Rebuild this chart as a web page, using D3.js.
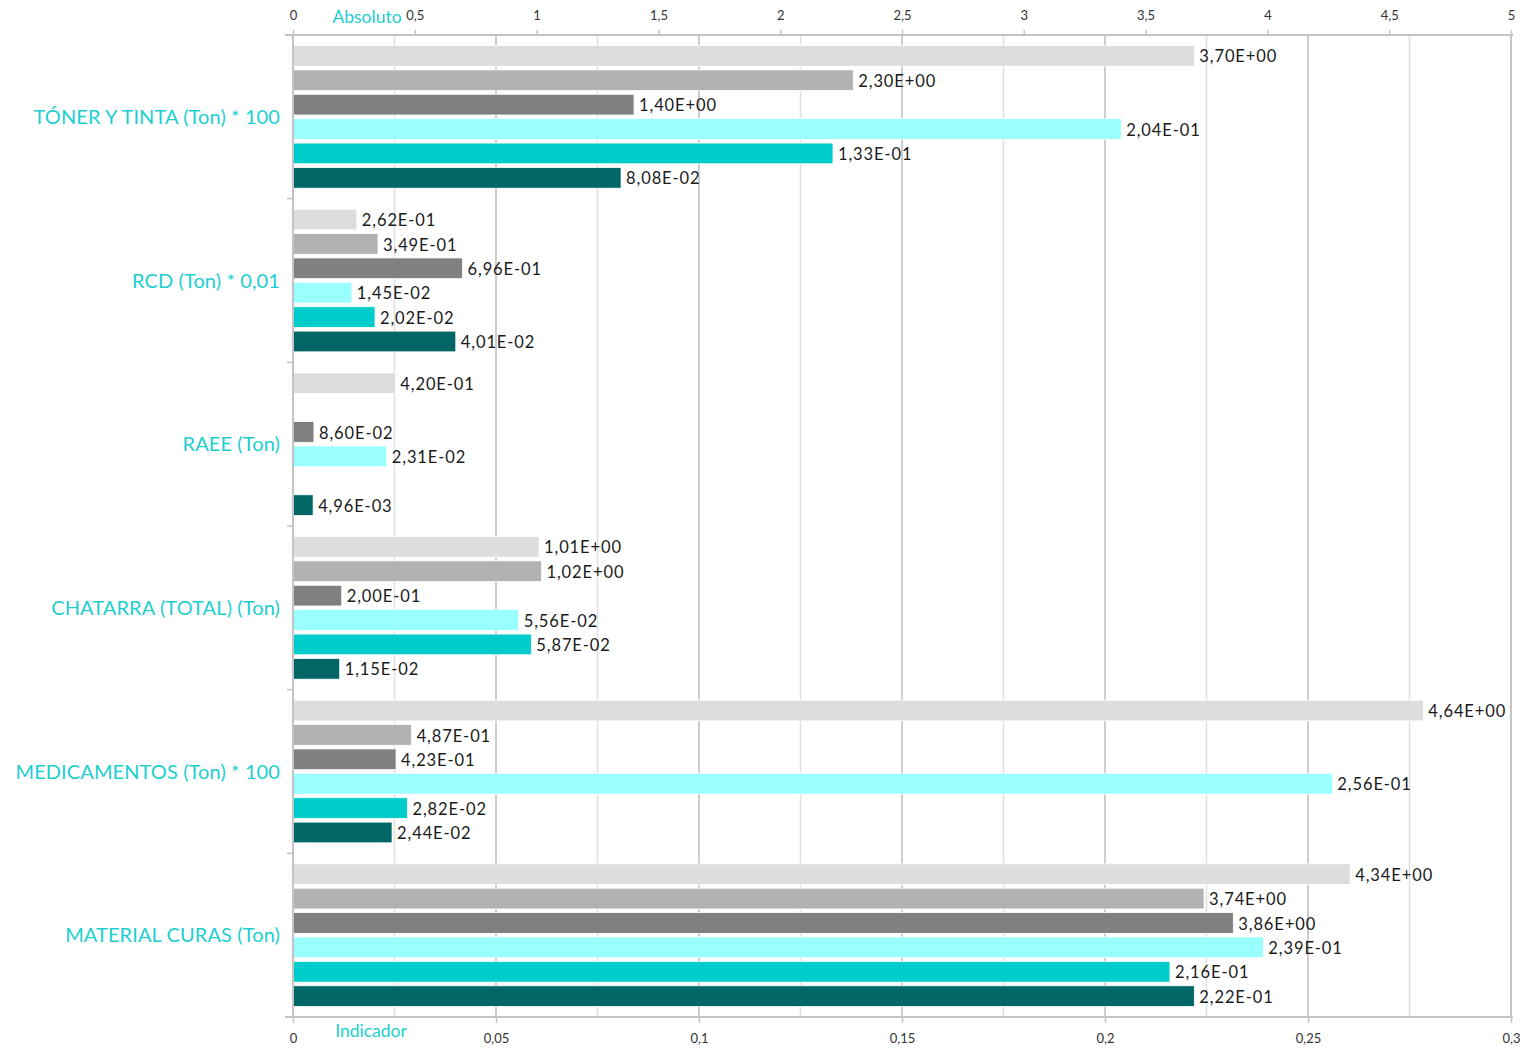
<!DOCTYPE html>
<html>
<head>
<meta charset="utf-8">
<script src="https://cdn.jsdelivr.net/npm/d3@7"></script>
<style>
  html, body { margin: 0; padding: 0; background: #fff; }
  svg { display: block; font-family: "Lato", "Open Sans", sans-serif; }
</style>
</head>
<body>
<svg id="chart" width="1524" height="1048"></svg>
<script>
// Waste categories (rows)
const categories = [
  "TÓNER Y TINTA (Ton) * 100",
  "RCD (Ton) * 0,01",
  "RAEE (Ton)",
  "CHATARRA (TOTAL) (Ton)",
  "MEDICAMENTOS (Ton) * 100",
  "MATERIAL CURAS (Ton)"
];

// Absolute quantities (read on the top axis)
const absoluto1 = [3.70, 0.262, 0.420, 1.01, 4.64, 4.34];
const absoluto2 = [2.30, 0.349, null, 1.02, 0.487, 3.74];
const absoluto3 = [1.40, 0.696, 0.086, 0.200, 0.423, 3.86];

// Indicator values (read on the bottom axis)
const indicador1 = [0.204, 0.0145, 0.0231, 0.0556, 0.256, 0.239];
const indicador2 = [0.133, 0.0202, null, 0.0587, 0.0282, 0.216];
const indicador3 = [0.0808, 0.0401, 0.00496, 0.0115, 0.0244, 0.222];

// Axis tick values
const absTicks = [0, 0.5, 1, 1.5, 2, 2.5, 3, 3.5, 4, 4.5, 5];
const indTicks = [0, 0.05, 0.1, 0.15, 0.2, 0.25, 0.3];
const indGrid = [0.025, 0.05, 0.075, 0.1, 0.125, 0.15, 0.175, 0.2, 0.225, 0.25, 0.275];

const seriesList = [
  { name: "Absoluto 1", values: absoluto1, axis: "abs", color: "#dddddd" },
  { name: "Absoluto 2", values: absoluto2, axis: "abs", color: "#b2b2b2" },
  { name: "Absoluto 3", values: absoluto3, axis: "abs", color: "#808080" },
  { name: "Indicador 1", values: indicador1, axis: "ind", color: "#99ffff" },
  { name: "Indicador 2", values: indicador2, axis: "ind", color: "#00cccc" },
  { name: "Indicador 3", values: indicador3, axis: "ind", color: "#006666" }
];

const cyan = "#1dcfcf";
const plot = { left: 293, right: 1511, top: 35, bottom: 1017 };

const svg = d3.select("#chart");

const xAbs = d3.scaleLinear().domain([0, 5]).range([plot.left, plot.right]);
const xInd = d3.scaleLinear().domain([0, 0.3]).range([plot.left, plot.right]);
const y = d3.scaleBand().domain(categories).range([plot.top, plot.bottom]).padding(0);
const yInner = d3.scaleBand()
  .domain(d3.range(seriesList.length))
  .range([0, y.bandwidth()])
  .paddingInner(0.15)
  .paddingOuter(0.43);

const comma = s => s.replace(".", ",");
function sci(v) {
  const [m, e] = v.toExponential(2).split("e");
  const n = +e;
  const sign = n < 0 ? "-" : "+";
  return comma(m) + "E" + sign + String(Math.abs(n)).padStart(2, "0");
}

// Grid lines (on the indicator scale)
svg.append("g")
  .selectAll("line")
  .data(indGrid)
  .join("line")
  .attr("x1", d => xInd(d)).attr("x2", d => xInd(d))
  .attr("y1", plot.top).attr("y2", plot.bottom)
  .attr("stroke", (d, i) => i % 2 === 1 ? "#bdbdbd" : "#e0e0e0")
  .attr("stroke-width", 1.5);

// Right border line
svg.append("line")
  .attr("x1", plot.right).attr("x2", plot.right).attr("y1", plot.top).attr("y2", plot.bottom)
  .attr("stroke", "#c4c4c4").attr("stroke-width", 2);

// Bars
const rows = svg.append("g").selectAll("g")
  .data(categories)
  .join("g")
  .attr("transform", d => `translate(0,${y(d)})`);

const barData = ci => seriesList.map((s, si) => ({
  si, value: s.values[ci], color: s.color,
  x: s.axis === "abs" ? xAbs : xInd
})).filter(d => d.value != null);

rows.each(function (cat, ci) {
  const g = d3.select(this);
  const data = barData(ci);
  g.selectAll("rect")
    .data(data)
    .join("rect")
    .attr("x", d => d.x(0))
    .attr("y", d => yInner(d.si))
    .attr("width", d => d.x(d.value) - d.x(0))
    .attr("height", yInner.bandwidth())
    .attr("fill", d => d.color)
    .attr("stroke", "#ffffff")
    .attr("stroke-width", 0.8);
  g.selectAll("text")
    .data(data)
    .join("text")
    .attr("x", d => d.x(d.value) + 5)
    .attr("y", d => yInner(d.si) + yInner.bandwidth() / 2)
    .attr("dy", "0.4em")
    .attr("font-size", 16.5)
    .attr("letter-spacing", 0.9)
    .attr("fill", "#1a1a1a")
    .text(d => sci(d.value));
});

// Top axis (absolute)
const topAxis = svg.append("g")
  .attr("transform", `translate(0,${plot.top})`)
  .call(d3.axisTop(xAbs).tickValues(absTicks).tickSize(5).tickPadding(10)
    .tickFormat(d => comma(String(d))));
topAxis.select(".domain").attr("stroke", "#c4c4c4").attr("stroke-width", 2)
  .attr("d", `M${plot.left - 8},0H${plot.right + 2}`);
topAxis.selectAll(".tick line").attr("stroke", "#c4c4c4").attr("stroke-width", 1.5);
topAxis.selectAll(".tick text").attr("font-size", 13).attr("fill", "#333")
  .attr("font-family", "Lato, sans-serif");

// Bottom axis (indicator)
const bottomAxis = svg.append("g")
  .attr("transform", `translate(0,${plot.bottom})`)
  .call(d3.axisBottom(xInd).tickValues(indTicks).tickSize(6).tickPadding(11)
    .tickFormat(d => comma(String(d))));
bottomAxis.select(".domain").attr("stroke", "#c4c4c4").attr("stroke-width", 2)
  .attr("d", `M${plot.left - 8},0H${plot.right + 2}`);
bottomAxis.selectAll(".tick line").attr("stroke", "#c4c4c4").attr("stroke-width", 1.5);
bottomAxis.selectAll(".tick text").attr("font-size", 13).attr("fill", "#333")
  .attr("font-family", "Lato, sans-serif");

// Left category axis
const leftAxis = svg.append("g")
  .attr("transform", `translate(${plot.left},0)`);
leftAxis.append("line")
  .attr("x1", 0).attr("x2", 0).attr("y1", plot.top).attr("y2", plot.bottom)
  .attr("stroke", "#c4c4c4").attr("stroke-width", 2);
leftAxis.selectAll("line.tick")
  .data(categories.map(c => y(c)).concat([plot.bottom]))
  .join("line")
  .attr("class", "tick")
  .attr("x1", -6).attr("x2", 0)
  .attr("y1", d => d).attr("y2", d => d)
  .attr("stroke", "#c4c4c4").attr("stroke-width", 1.5);

svg.append("g").selectAll("text")
  .data(categories)
  .join("text")
  .attr("x", 280)
  .attr("y", d => y(d) + y.bandwidth() / 2)
  .attr("dy", "0.35em")
  .attr("text-anchor", "end")
  .attr("font-size", 20)
  .attr("letter-spacing", 0.1)
  .attr("fill", cyan)
  .text(d => d);

// Axis titles
svg.append("text")
  .attr("x", 367).attr("y", 23)
  .attr("text-anchor", "middle")
  .attr("font-size", 17.5).attr("fill", cyan)
  .text("Absoluto");
svg.append("text")
  .attr("x", 371).attr("y", 1037)
  .attr("text-anchor", "middle")
  .attr("font-size", 17.5).attr("fill", cyan)
  .text("Indicador");
</script>
</body>
</html>
